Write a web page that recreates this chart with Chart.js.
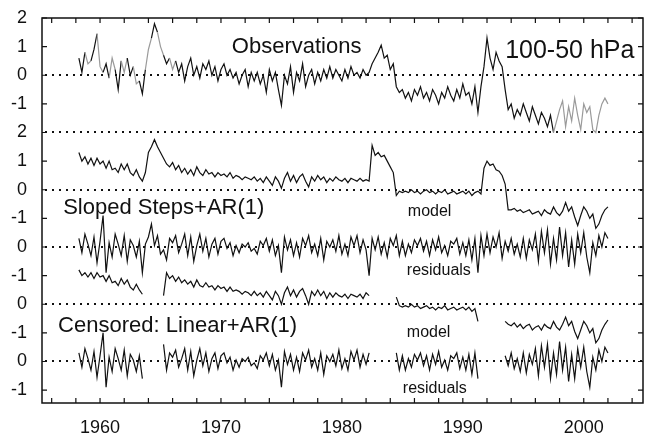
<!DOCTYPE html>
<html>
<head>
<meta charset="utf-8">
<script src="https://cdn.jsdelivr.net/npm/chart.js@4"></script>
<style>
  body { margin: 0; background: #fff; }
  #wrap { width: 654px; height: 439px; }
</style>
</head>
<body>
<div id="wrap"><canvas id="myChart" width="654" height="439"></canvas></div>
<script>
// quarterly samples, first one at 1958.25
let startYear = 1958.25;
let stepYear = 0.25;

// y tick labels for u = 0..13 (panels are stacked)
let tickLabels = ['-1','0','-1','0','-1','0','-1','0','1','2','-1','0','1','2'];

// one row per year (4 quarters)
let obs = [
  0.6, 0.1, 0.8, 0.4,
  0.5, 0.9, 1.45, 0.3,
  0.1, 0.4, -0.1, 0.6,
  0.2, -0.5, 0.5, 0.1,
  0.6, 0.0, 0.3, -0.3,
  -0.2, -0.65, 0.2, 0.9,
  1.3, 1.8, 1.5, 1.0,
  0.7, 0.4, 0.6, 0.2,
  0.5, 0.1, 0.4, -0.2,
  0.3, 0.6, 0.0, 0.3,
  -0.1, 0.4, 0.2, 0.5,
  0.0, 0.3, -0.2, 0.2,
  0.4, 0.0, 0.2, -0.1,
  0.1, -0.3, 0.0, 0.2,
  -0.4, 0.1, -0.2, 0.1,
  -0.3, 0.0, -0.6, 0.2,
  -0.2, 0.1, -0.5, -1.05,
  0.0, -0.3, 0.3, -0.6,
  0.1, -0.2, 0.4, -0.4,
  0.0, 0.2, -0.3, 0.1,
  -0.2, 0.2, -0.1, 0.3,
  -0.1, 0.2, 0.0, -0.2,
  0.2, -0.1, 0.3, 0.0,
  0.1, -0.1, 0.2, 0.0,
  0.1, 0.4, 0.6, 0.8,
  1.05, 0.6, 0.7, 0.2,
  0.4, -0.4, -0.6, -0.5,
  -0.8, -0.6, -0.9, -0.5,
  -0.7, -0.4, -0.8, -0.6,
  -0.9, -0.5, -0.7, -1.0,
  -0.6, -0.8, -0.4, -0.7,
  -0.9, -0.5, -0.8, -0.3,
  -0.7, -0.6, -1.0, -0.4,
  -1.3, -0.4, 0.3, 1.3,
  0.6, 0.2, 0.8, 0.5,
  0.3, -0.5, -1.2, -1.0,
  -1.5, -1.2, -1.4, -1.0,
  -1.3, -1.6, -1.1, -1.4,
  -1.7, -1.3, -1.5, -1.8,
  -1.4, -2.0, -1.6, -1.2,
  -0.9, -1.8, -1.1, -1.6,
  -0.8, -1.4, -1.9, -1.0,
  -1.3, -1.1, -1.9, -2.0,
  -1.4, -1.0, -0.8, -1.0
];

let model1 = [
  1.3, 1.0, 1.15, 0.9,
  1.1, 0.85, 1.1, 0.9,
  1.0, 0.75, 1.0, 0.7,
  0.75, 0.6, 0.9, 0.7,
  0.9, 0.6, 0.5, 0.7,
  0.45, 0.3, 0.6, 1.3,
  1.5, 1.75, 1.5, 1.3,
  1.1, 0.9, 0.8, 0.95,
  0.7, 0.85, 0.6, 0.75,
  0.55, 0.7, 0.5, 0.8,
  0.6, 0.5, 0.7, 0.55,
  0.6, 0.45, 0.6, 0.5,
  0.55, 0.45, 0.6, 0.4,
  0.5, 0.45, 0.35, 0.45,
  0.4, 0.35, 0.45, 0.3,
  0.4, 0.25, 0.45, 0.3,
  0.15, 0.45, 0.3, 0.05,
  0.4, 0.6, 0.3, 0.5,
  0.25, 0.45, 0.55, 0.3,
  0.1, 0.45, 0.3, 0.5,
  0.35, 0.45, 0.25, 0.4,
  0.3, 0.45, 0.35, 0.3,
  0.4, 0.25, 0.4, 0.35,
  0.3, 0.4, 0.3, 0.35,
  0.3, 1.55, 1.2, 1.3,
  1.15, 1.2, 1.0, 0.8,
  0.6, -0.2, -0.05, -0.1,
  -0.05, -0.1, 0.0, -0.1,
  -0.05, -0.15, -0.05, 0.0,
  -0.1, -0.05, -0.15, -0.05,
  -0.1, 0.0, -0.15, -0.1,
  -0.05, -0.15, -0.1, -0.05,
  -0.15, -0.05, -0.2, -0.1,
  -0.05, -0.15, 0.75, 1.0,
  0.85, 0.9, 0.7, 0.65,
  0.5, 0.2, -0.7, -0.7,
  -0.65, -0.75, -0.7, -0.8,
  -0.75, -0.7, -0.85, -0.8,
  -0.75, -0.9, -0.7, -0.8,
  -0.85, -0.6, -0.8, -0.9,
  -0.75, -0.45, -0.75, -0.6,
  -0.95, -1.25, -0.9, -0.6,
  -0.75, -1.0, -0.85, -1.35,
  -1.2, -0.9, -0.7, -0.6
];

let resid1 = [
  0.3, -0.2, 0.45, 0.1,
  -0.3, 0.35, -0.55, 0.2,
  1.1, -0.9, 0.15, -0.35,
  0.45, 0.1, -0.3, 0.4,
  -0.5, 0.25, 0.05, -0.35,
  0.2, -0.9, 0.1, 0.35,
  0.8, 0.05, 0.4, -0.25,
  -0.1, -0.45, 0.3, 0.15,
  0.4, -0.2, 0.1, 0.45,
  -0.3, 0.35, -0.5, 0.05,
  0.45, -0.15, 0.3, -0.35,
  0.1, 0.3, -0.25, 0.2,
  0.3, -0.05, 0.15, -0.3,
  0.05, -0.2, 0.1, 0.0,
  0.15, -0.15, -0.05, -0.25,
  0.2, 0.05, 0.3, -0.15,
  0.25, -0.3, 0.05, -0.9,
  0.35, -0.1, 0.25, -0.3,
  0.15, -0.35, 0.3, 0.05,
  0.4, -0.2, 0.1, -0.3,
  0.3, -0.45, 0.2, 0.0,
  0.25, -0.15, 0.4, -0.25,
  0.1, -0.3, 0.35, 0.05,
  0.4, -0.2, 0.25, -0.1,
  -1.0, 0.3, -0.1, 0.35,
  -0.25, 0.15, -0.35, 0.3,
  0.05, 0.4, -0.3, 0.2,
  -0.3, 0.1, -0.2, 0.25,
  0.05, 0.3, -0.15, 0.2,
  -0.3, 0.25, -0.1, 0.35,
  -0.2, 0.05, -0.3, 0.2,
  0.1, 0.3, -0.25, 0.15,
  -0.3, 0.25, -0.45, 0.3,
  -0.9, 0.4, -0.3, 0.45,
  -0.2, 0.35, 0.0, 0.5,
  -0.4, 0.2, -0.15, 0.3,
  -0.25, 0.1, -0.35, 0.3,
  -0.4, 0.25, -0.1, 0.45,
  -0.5, 0.55, -0.2, 0.6,
  -0.6, 0.3, -0.45, 0.7,
  -0.3, 0.5, -0.7, 0.25,
  -0.6, 0.45, -0.2, 0.5,
  -0.35, -0.9, 0.15, -0.3,
  0.4, 0.0, 0.5, 0.3
];

let model2 = [
  1.2, 1.0, 1.1, 0.95,
  1.1, 0.9, 1.1, 0.95,
  1.0, 0.8, 1.0, 0.75,
  0.8, 0.65, 0.9, 0.7,
  0.85, 0.6, 0.5, 0.7,
  0.5, 0.35, null, null,
  null, null, null, null,
  0.3, 1.1, 0.9, 1.0,
  0.8, 0.95, 0.75, 0.85,
  0.7, 0.8, 0.6, 0.85,
  0.65, 0.6, 0.75, 0.6,
  0.65, 0.5, 0.65, 0.55,
  0.6, 0.45, 0.6, 0.45,
  0.5, 0.45, 0.35, 0.45,
  0.4, 0.3, 0.45, 0.3,
  0.4, 0.25, 0.45, 0.3,
  0.15, 0.45, 0.3, 0.0,
  0.4, 0.6, 0.3, 0.5,
  0.25, 0.45, 0.55, 0.3,
  0.0, 0.45, 0.3, 0.5,
  0.3, 0.45, 0.2, 0.4,
  0.25, 0.4, 0.3, 0.25,
  0.35, 0.2, 0.35, 0.3,
  0.25, 0.35, 0.2, 0.4,
  0.3, null, null, null,
  null, null, null, null,
  null, 0.25, -0.05, -0.1,
  -0.05, -0.1, 0.0, -0.1,
  -0.05, -0.15, -0.1, -0.05,
  -0.15, -0.1, -0.2, -0.1,
  -0.15, -0.05, -0.2, -0.15,
  -0.1, -0.2, -0.15, -0.1,
  -0.2, -0.1, -0.25, -0.15,
  -0.6, null, null, null,
  null, null, null, null,
  null, -0.6, -0.7, -0.75,
  -0.65, -0.8, -0.7, -0.85,
  -0.75, -0.7, -0.9, -0.8,
  -0.75, -0.9, -0.7, -0.8,
  -0.85, -0.6, -0.8, -0.9,
  -0.7, -0.45, -0.75, -0.6,
  -0.95, -1.2, -0.9, -0.6,
  -0.75, -1.0, -0.85, -1.35,
  -1.2, -0.9, -0.7, -0.55
];

let resid2 = [
  0.3, -0.2, 0.45, 0.1,
  -0.3, 0.35, -0.55, 0.2,
  1.0, -0.9, 0.15, -0.35,
  0.45, 0.1, -0.3, 0.4,
  -0.5, 0.25, 0.05, -0.35,
  0.2, -0.6, null, null,
  null, null, null, null,
  0.6, -0.3, 0.3, 0.15,
  0.4, -0.2, 0.1, 0.45,
  -0.3, 0.35, -0.5, 0.05,
  0.45, -0.15, 0.3, -0.35,
  0.1, 0.3, -0.25, 0.2,
  0.3, -0.05, 0.15, -0.3,
  0.05, -0.2, 0.1, 0.0,
  0.15, -0.15, -0.05, -0.25,
  0.2, 0.05, 0.3, -0.15,
  0.25, -0.3, 0.05, -0.9,
  0.35, -0.1, 0.25, -0.3,
  0.15, -0.35, 0.3, 0.05,
  0.4, -0.2, 0.1, -0.3,
  0.3, -0.45, 0.2, 0.0,
  0.25, -0.15, 0.4, -0.25,
  0.1, -0.3, 0.35, 0.05,
  0.4, -0.2, 0.25, -0.1,
  0.3, null, null, null,
  null, null, null, null,
  null, 0.3, -0.3, 0.2,
  -0.3, 0.1, -0.2, 0.25,
  0.05, 0.3, -0.15, 0.2,
  -0.3, 0.25, -0.1, 0.35,
  -0.2, 0.05, -0.3, 0.2,
  0.1, 0.3, -0.25, 0.15,
  -0.3, 0.25, -0.45, 0.3,
  -0.6, null, null, null,
  null, null, null, null,
  null, 0.2, -0.15, 0.3,
  -0.25, 0.1, -0.35, 0.3,
  -0.4, 0.25, -0.1, 0.45,
  -0.5, 0.55, -0.2, 0.6,
  -0.6, 0.3, -0.45, 0.7,
  -0.3, 0.5, -0.7, 0.25,
  -0.6, 0.45, -0.2, 0.5,
  -0.35, -0.9, 0.15, -0.3,
  0.4, 0.0, 0.5, 0.3
];

// zero level of each stacked panel on the shared y axis
let zeroLines = [11, 9, 7, 5, 3, 1];

let notes = [
  { text: 'Observations', x: 1970.9, y: 11.78, size: 22 },
  { text: '100-50 hPa', x: 1993.5, y: 11.6, size: 25 },
  { text: 'Sloped Steps+AR(1)', x: 1956.95, y: 6.15, size: 22 },
  { text: 'model', x: 1985.45, y: 6.08, size: 16 },
  { text: 'residuals', x: 1985.37, y: 4.02, size: 16 },
  { text: 'Censored: Linear+AR(1)', x: 1956.53, y: 2.03, size: 22 },
  { text: 'model', x: 1985.37, y: 1.85, size: 16 },
  { text: 'residuals', x: 1985.04, y: -0.1, size: 16 }
];

function toPoints(values, offset) {
  return values.map((v, i) => ({ x: startYear + i * stepYear, y: v === null ? null : v + offset }));
}

function obsColor(ctx) {
  let i = ctx.p0DataIndex;
  if (i < 32 && i % 4 >= 2) return '#9a9a9a';
  if (i >= 157) return '#9a9a9a';
  return '#111';
}

let frame = {
  id: 'frame',
  beforeDatasetsDraw(chart) {
    let c = chart.ctx, a = chart.chartArea, y = chart.scales.y;
    c.save();
    c.strokeStyle = '#111';
    c.lineWidth = 2;
    c.setLineDash([2, 5]);
    zeroLines.forEach(u => {
      let py = Math.round(y.getPixelForValue(u));
      c.beginPath();
      c.moveTo(a.left + 3, py);
      c.lineTo(a.right, py);
      c.stroke();
    });
    c.restore();
  },
  afterDatasetsDraw(chart) {
    let c = chart.ctx, a = chart.chartArea, x = chart.scales.x, y = chart.scales.y;
    c.save();
    c.strokeStyle = '#111';
    c.lineWidth = 1.5;
    c.strokeRect(a.left, a.top, a.right - a.left, a.bottom - a.top);
    c.lineWidth = 1.2;
    c.beginPath();
    for (let yr = 1956; yr <= 2004; yr += 2) {
      let px = x.getPixelForValue(yr);
      c.moveTo(px, a.bottom); c.lineTo(px, a.bottom - 5);
      c.moveTo(px, a.top); c.lineTo(px, a.top + 5);
    }
    for (let u = 0; u <= 13; u++) {
      let py = y.getPixelForValue(u);
      c.moveTo(a.left, py); c.lineTo(a.left + 5, py);
      c.moveTo(a.right, py); c.lineTo(a.right - 5, py);
    }
    c.stroke();
    c.fillStyle = '#111';
    c.textAlign = 'left';
    c.textBaseline = 'alphabetic';
    notes.forEach(n => {
      c.font = n.size + 'px "Liberation Sans", Arial, sans-serif';
      c.fillText(n.text, x.getPixelForValue(n.x), y.getPixelForValue(n.y));
    });
    c.restore();
  }
};

let lineStyle = { pointRadius: 0, borderWidth: 1.2, tension: 0, spanGaps: false, fill: false };

let ctx = document.getElementById('myChart').getContext('2d');
let myChart = new Chart(ctx, {
  type: 'line',
  data: {
    datasets: [
      Object.assign({ label: 'Observations', data: toPoints(obs, 11), borderColor: '#111',
        segment: { borderColor: obsColor } }, lineStyle),
      Object.assign({ label: 'Sloped Steps model', data: toPoints(model1, 7), borderColor: '#111' }, lineStyle),
      Object.assign({ label: 'Sloped Steps residuals', data: toPoints(resid1, 5), borderColor: '#111' }, lineStyle),
      Object.assign({ label: 'Censored model', data: toPoints(model2, 3), borderColor: '#111' }, lineStyle),
      Object.assign({ label: 'Censored residuals', data: toPoints(resid2, 1), borderColor: '#111' }, lineStyle)
    ]
  },
  options: {
    responsive: false,
    animation: false,
    layout: { padding: { top: 18, right: 11, left: 0, bottom: 0 } },
    plugins: { legend: { display: false }, tooltip: { enabled: false } },
    scales: {
      x: {
        type: 'linear',
        min: 1955.2,
        max: 2004.9,
        grid: { display: false },
        border: { display: false },
        afterFit(s) { s.height = 36; },
        ticks: {
          stepSize: 10,
          includeBounds: false,
          maxRotation: 0,
          padding: 6,
          color: '#111',
          font: { family: '"Liberation Sans", Arial, sans-serif', size: 18 },
          callback: v => String(v)
        }
      },
      y: {
        type: 'linear',
        min: -0.45,
        max: 13,
        grid: { display: false },
        border: { display: false },
        afterFit(s) { s.width = 42; },
        ticks: {
          stepSize: 1,
          includeBounds: false,
          padding: 7,
          color: '#111',
          font: { family: '"Liberation Sans", Arial, sans-serif', size: 18 },
          callback: v => (Number.isInteger(v) && v >= 0 && v <= 13) ? tickLabels[v] : ''
        }
      }
    }
  },
  plugins: [frame]
});
</script>
</body>
</html>
